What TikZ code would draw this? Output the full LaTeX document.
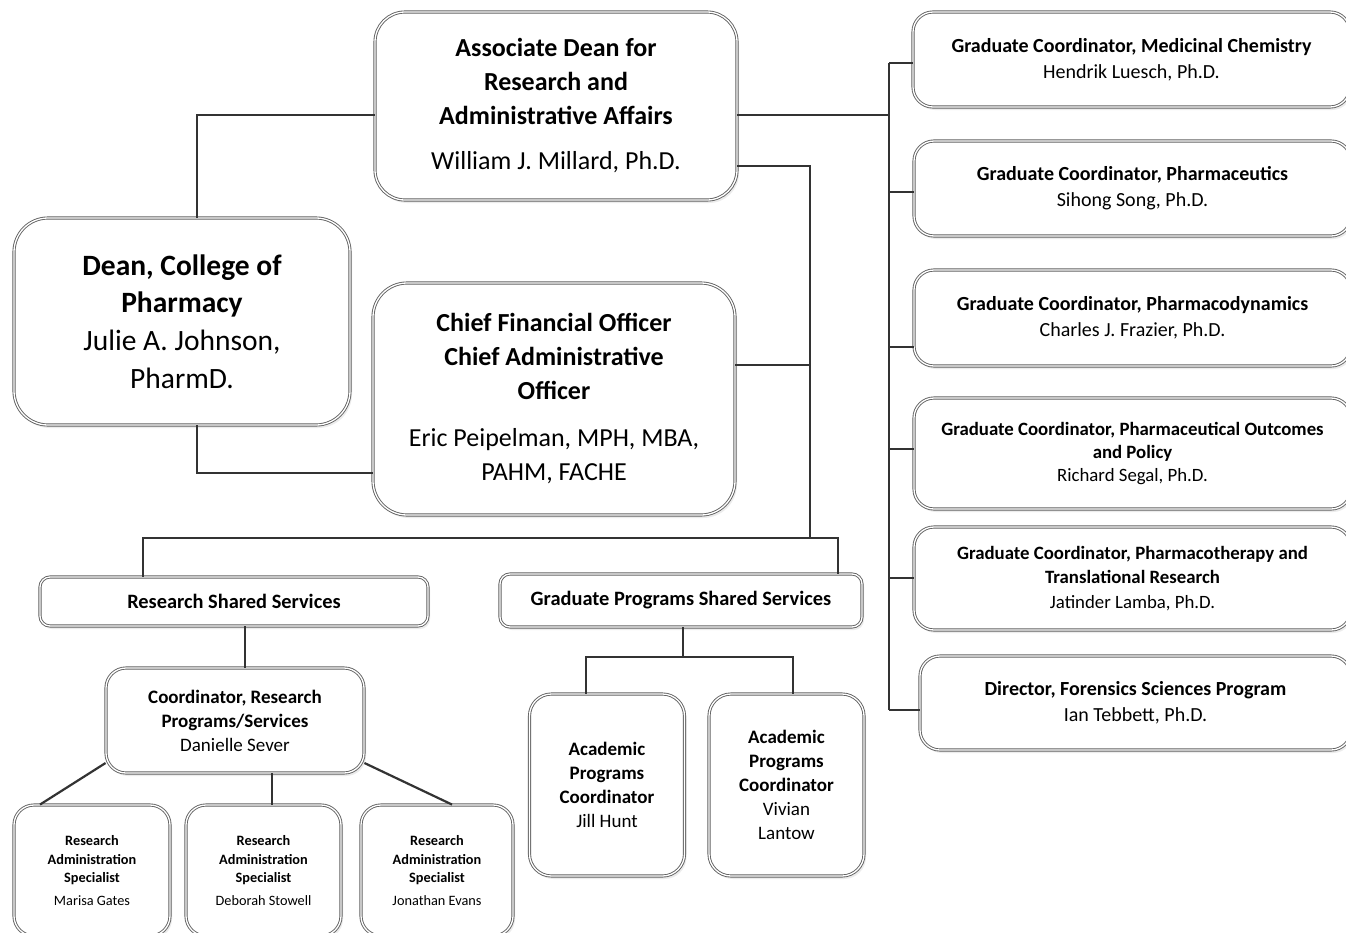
\documentclass[tikz,border=0pt]{standalone}
\usepackage{fontspec}
\setmainfont{Carlito}
\usetikzlibrary{shadows}
\begin{document}
\begin{tikzpicture}[x=1pt,y=-1pt,
  box/.style={draw=black!62, double=white, double distance=1.3pt, line width=0.9pt,
    rounded corners=#1, fill=white, align=center, inner sep=0pt,
    drop shadow={shadow xshift=2pt, shadow yshift=-3pt, opacity=0.15}},
  box/.default=20pt,
  conn/.style={draw=black!80, line width=2.2pt},
  rbox/.style={box=20pt, minimum width=437pt, font=\fontsize{20}{26}\selectfont},
  spec/.style={box=20pt, minimum height=131pt, font=\fontsize{14.3}{18.5}\selectfont},
  apc/.style={box=22pt, minimum width=155pt, minimum height=182pt, font=\fontsize{19}{24}\selectfont}]
\useasboundingbox (0,0) rectangle (1346,932);
\fill[white] (0,0) rectangle (1346,932);

% top-level boxes
\node[box=30pt, minimum width=362pt, minimum height=188pt, font=\fontsize{26}{34}\selectfont] (AD) at (556,106)
  {\textbf{Associate Dean for}\\\textbf{Research and}\\\textbf{Administrative Affairs}\\[11pt]William J. Millard, Ph.D.};
\node[box=34pt, minimum width=336pt, minimum height=207pt, font=\fontsize{29.5}{37.7}\selectfont] (Dean) at (182,321.5)
  {\textbf{Dean, College of}\\\textbf{Pharmacy}\\Julie A. Johnson,\\PharmD.};
\node[box=34pt, minimum width=362pt, minimum height=232pt, font=\fontsize{26}{34}\selectfont] (CFO) at (554,399)
  {\textbf{Chief Financial Officer}\\\textbf{Chief Administrative}\\\textbf{Officer}\\[13pt]Eric Peipelman, MPH, MBA,\\PAHM, FACHE};

% right column
\node[rbox, minimum height=95pt] (R1) at (1131.5,59.5)
  {\textbf{Graduate Coordinator, Medicinal Chemistry}\\Hendrik Luesch, Ph.D.};
\node[rbox, minimum height=95pt] (R2) at (1132.5,188.5)
  {\textbf{Graduate Coordinator, Pharmaceutics}\\Sihong Song, Ph.D.};
\node[rbox, minimum height=96pt] (R3) at (1132.5,318)
  {\textbf{Graduate Coordinator, Pharmacodynamics}\\Charles J. Frazier, Ph.D.};
\node[rbox, minimum height=111pt, font=\fontsize{18.8}{23}\selectfont] (R4) at (1132.5,453.5)
  {\textbf{Graduate Coordinator, Pharmaceutical Outcomes}\\\textbf{and Policy}\\Richard Segal, Ph.D.};
\node[rbox, minimum height=103pt, font=\fontsize{18.8}{24.5}\selectfont] (R5) at (1132.5,578.5)
  {\textbf{Graduate Coordinator, Pharmacotherapy and}\\\textbf{Translational Research}\\Jatinder Lamba, Ph.D.};
\node[rbox, minimum width=431pt, minimum height=94pt] (R6) at (1135.5,703)
  {\textbf{Director, Forensics Sciences Program}\\Ian Tebbett, Ph.D.};

% shared services
\node[box=10pt, minimum width=388pt, minimum height=49pt, font=\fontsize{20.4}{24}\selectfont\bfseries] (RSS) at (234,601.5)
  {Research Shared Services};
\node[box=10pt, minimum width=362pt, minimum height=53pt, font=\fontsize{20.4}{24}\selectfont\bfseries] (GPSS) at (681,600.5)
  {Graduate Programs Shared Services};

\node[box=20pt, minimum width=258pt, minimum height=105pt, font=\fontsize{19}{24}\selectfont] (Coord) at (235,720.5)
  {\textbf{Coordinator, Research}\\\textbf{Programs/Services}\\Danielle Sever};

\node[spec, minimum width=156pt] (SA) at (92,870.5)
  {\textbf{Research}\\\textbf{Administration}\\\textbf{Specialist}\\[4pt]Marisa Gates};
\node[spec, minimum width=155pt] (SB) at (263.5,870.5)
  {\textbf{Research}\\\textbf{Administration}\\\textbf{Specialist}\\[4pt]Deborah Stowell};
\node[spec, minimum width=152pt] (SC) at (437,870.5)
  {\textbf{Research}\\\textbf{Administration}\\\textbf{Specialist}\\[4pt]Jonathan Evans};

\node[apc] (PA) at (607,785)
  {\textbf{Academic}\\\textbf{Programs}\\\textbf{Coordinator}\\Jill Hunt};
\node[apc] (PB) at (786.5,785)
  {\textbf{Academic}\\\textbf{Programs}\\\textbf{Coordinator}\\Vivian\\Lantow};

% bus coordinates
\coordinate (busR) at (889,115);
\coordinate (rb1) at (889,63);
\coordinate (rb2) at (889,192);
\coordinate (rb3) at (889,347);
\coordinate (rb4) at (889,449);
\coordinate (rb5) at (889,578);
\coordinate (rb6) at (889,710);
\coordinate (mid) at (810,538);
\coordinate (gp) at (683,657);

% connectors
\draw[conn] (AD.west |- 0,115) -| (Dean.north -| 197,0);
\draw[conn] (Dean.south -| 197,0) |- (CFO.west |- 0,473);
\draw[conn] (AD.east |- 0,115) -- (busR);
\draw[conn] (rb1) -- (rb6);
\draw[conn] (rb1) -- (R1.west |- rb1);
\draw[conn] (rb2) -- (R2.west |- rb2);
\draw[conn] (rb3) -- (R3.west |- rb3);
\draw[conn] (rb4) -- (R4.west |- rb4);
\draw[conn] (rb5) -- (R5.west |- rb5);
\draw[conn] (rb6) -- (R6.west |- rb6);
\draw[conn] (AD.east |- 0,166) -| (mid);
\draw[conn] (CFO.east |- 0,365) -- (810,365);
\draw[conn] (RSS.north -| 143,0) |- (mid) -| (GPSS.north -| 838,0);
\draw[conn] (RSS.south -| 245,0) -- (Coord.north -| 245,0);
\draw[conn] (Coord.west |- 0,763) -- (SA.north -| 40,0);
\draw[conn] (Coord.south -| 272,0) -- (SB.north -| 272,0);
\draw[conn] (Coord.east |- 0,763) -- (SC.north -| 452,0);
\draw[conn] (GPSS.south -| 683,0) -- (gp);
\draw[conn] (PA.north -| 586,0) |- (gp) -| (PB.north -| 793,0);
\end{tikzpicture}
\end{document}
